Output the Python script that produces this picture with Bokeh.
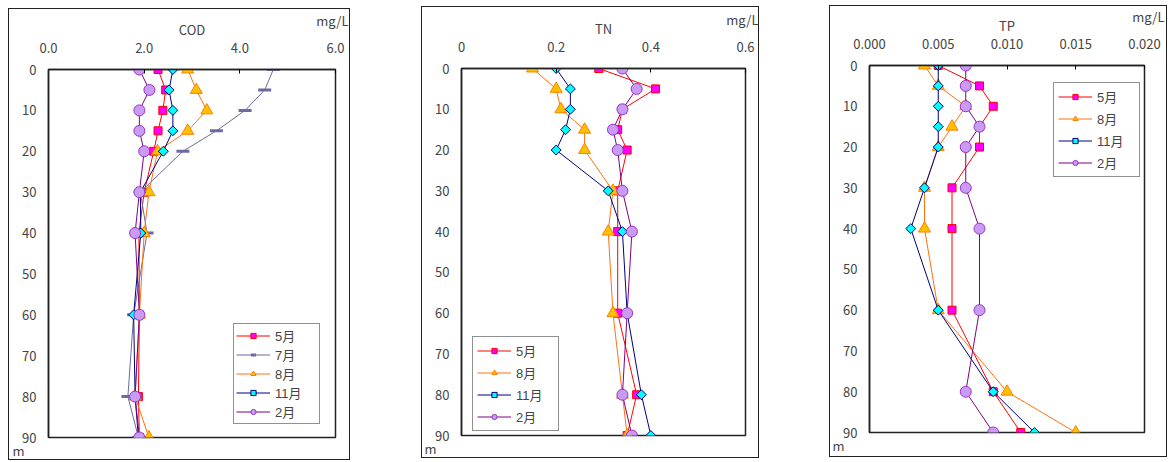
import math
from bokeh.plotting import figure
from bokeh.models import Range1d, FixedTicker, Legend, LegendItem, Title, Spacer
from bokeh.layouts import row, column
from bokeh.embed import file_html
from bokeh.resources import INLINE

depth = [0, 5, 10, 15, 20, 30, 40, 60, 80, 90]
depth_ticks = [0, 10, 20, 30, 40, 50, 60, 70, 80, 90]

months_cod = ["5月", "7月", "8月", "11月", "2月"]
months_4 = ["5月", "8月", "11月", "2月"]

cod_may = [2.29, 2.45, 2.39, 2.29, 2.20, 2.00, 1.89, 1.90, 1.88, 1.90]
cod_jul = [4.70, 4.52, 4.11, 3.51, 2.81, 1.92, 2.06, 1.78, 1.66, 1.88]
cod_aug = [2.91, 3.09, 3.31, 2.91, 2.28, 2.10, 2.00, 1.90, 1.81, 2.10]
cod_nov = [2.60, 2.52, 2.60, 2.60, 2.40, 1.92, 1.93, 1.78, 1.81, 1.88]
cod_feb = [1.90, 2.11, 1.90, 1.90, 2.00, 1.90, 1.81, 1.90, 1.81, 1.90]

tn_may = [0.29, 0.41, 0.34, 0.33, 0.35, 0.33, 0.33, 0.33, 0.37, 0.35]
tn_aug = [0.15, 0.20, 0.21, 0.26, 0.26, 0.32, 0.31, 0.32, 0.34, 0.35]
tn_nov = [0.20, 0.23, 0.23, 0.22, 0.20, 0.31, 0.34, 0.35, 0.38, 0.40]
tn_feb = [0.34, 0.37, 0.34, 0.32, 0.33, 0.34, 0.36, 0.35, 0.34, 0.36]

tp_may = [0.005, 0.008, 0.009, 0.008, 0.008, 0.006, 0.006, 0.006, 0.009, 0.011]
tp_aug = [0.004, 0.005, 0.007, 0.006, 0.005, 0.004, 0.004, 0.005, 0.010, 0.015]
tp_nov = [0.005, 0.005, 0.005, 0.005, 0.005, 0.004, 0.003, 0.005, 0.009, 0.012]
tp_feb = [0.007, 0.007, 0.007, 0.008, 0.007, 0.007, 0.008, 0.008, 0.007, 0.009]

cod_ticks = [0, 2, 4, 6]
cod_tick_labels = ["0.0", "2.0", "4.0", "6.0"]
tn_ticks = [0, 0.2, 0.4, 0.6]
tn_tick_labels = ["0", "0.2", "0.4", "0.6"]
tp_ticks = [0, 0.005, 0.010, 0.015, 0.020]
tp_tick_labels = ["0.000", "0.005", "0.010", "0.015", "0.020"]

FONT = "Noto Sans CJK JP"
LFONT = "Liberation Sans, Noto Sans CJK JP"
FS = "13px"

STYLE = {
    "5月": dict(marker="square", size=8, angle=0, line="#FF0000", fill="#FF00FF", edge="#FF0000"),
    "7月": dict(marker="dash", size=13, angle=0, line="#6B6BA0", fill="#6B6BA0", edge="#6B6BA0"),
    "8月": dict(marker="triangle", size=12, angle=0, line="#FF7010", fill="#FFC000", edge="#FF8000"),
    "11月": dict(marker="square", size=7, angle=math.pi / 4, line="#000080", fill="#00FFFF", edge="#000080"),
    "2月": dict(marker="circle", size=11, angle=0, line="#800080", fill="#C99BF2", edge="#9933CC"),
}


def make_panel(title, xmax, ticks, tick_labels, names, series, width,
               borders, leg_loc, leg_spacing, leg_pad, leg_lw, mgl_off, m_off):
    bl, br, bt, bb = borders
    p = figure(width=width, height=452, output_backend="svg", toolbar_location=None,
               x_axis_location="above", x_range=Range1d(0, xmax), y_range=Range1d(90, 0),
               min_border_left=bl, min_border_right=br, min_border_top=bt, min_border_bottom=bb,
               styles={"border": "1px solid #222"})
    p.grid.visible = False
    p.outline_line_color = "#222222"
    p.outline_line_width = 1.5
    p.background_fill_color = "white"
    p.border_fill_color = "white"

    p.title.text = "mg/L"
    p.title.align = "right"
    p.title.offset = mgl_off
    p.title.standoff = -27
    p.title.text_font = FONT
    p.title.text_font_size = FS
    p.title.text_font_style = "normal"

    p.add_layout(Title(text="m", align="left", offset=m_off, standoff=2,
                       text_font=FONT, text_font_size=FS, text_font_style="normal"), "below")

    xa = p.xaxis[0]
    xa.ticker = FixedTicker(ticks=ticks)
    xa.major_label_overrides = {t: l for t, l in zip(ticks, tick_labels)}
    xa.major_tick_in = 4
    xa.major_tick_out = 0
    xa.minor_tick_in = 0
    xa.minor_tick_out = 0
    xa.major_label_standoff = 17
    xa.axis_label = title
    xa.axis_label_standoff = 1
    xa.axis_label_text_font_style = "normal"
    xa.axis_label_text_font = FONT
    xa.axis_label_text_font_size = FS
    xa.major_label_text_font = FONT
    xa.major_label_text_font_size = FS
    xa.axis_line_color = "#222222"
    xa.axis_line_width = 1.5

    ya = p.yaxis[0]
    ya.ticker = FixedTicker(ticks=depth_ticks)
    ya.major_tick_in = 0
    ya.major_tick_out = 0
    ya.minor_tick_in = 0
    ya.minor_tick_out = 0
    ya.major_label_standoff = 12
    ya.major_label_text_font = FONT
    ya.major_label_text_font_size = FS
    ya.axis_line_color = "#222222"
    ya.axis_line_width = 1.5

    items = []
    for name, vals in zip(names, series):
        s = STYLE[name]
        r1 = p.line(vals, depth, line_color=s["line"], line_width=1)
        lw = 3 if s["marker"] == "dash" else 1
        r2 = p.scatter(vals, depth, marker=s["marker"], size=s["size"], angle=s["angle"],
                       fill_color=s["fill"], line_color=s["edge"], line_width=lw)
        items.append(LegendItem(label=name, renderers=[r1, r2]))

    leg = Legend(items=items, location=leg_loc)
    leg.label_text_font = LFONT
    leg.label_text_font_size = FS
    leg.label_text_line_height = 1.0
    leg.glyph_width = 34
    leg.glyph_height = 13
    leg.label_height = 13
    leg.label_width = leg_lw
    leg.spacing = leg_spacing
    leg.padding = leg_pad
    leg.margin = 0
    leg.label_standoff = 5
    leg.border_line_color = "#222222"
    leg.border_line_width = 1.5
    leg.background_fill_alpha = 1
    p.add_layout(leg, "center")
    return p


p1 = make_panel("COD", 6, cod_ticks, cod_tick_labels, months_cod,
                [cod_may, cod_jul, cod_aug, cod_nov, cod_feb], 342,
                (39, 16, 60, 24), (185, 13), -4, 2, 42, -13, -36)
p2 = make_panel("TN", 0.6, tn_ticks, tn_tick_labels, months_4,
                [tn_may, tn_aug, tn_nov, tn_feb], 338,
                (39, 15, 61, 24), (11, 4), 3, 4, 38, -13, -37)
p3 = make_panel("TP", 0.02, tp_ticks, tp_tick_labels, months_4,
                [tp_may, tp_aug, tp_nov, tp_feb], 338,
                (39, 24, 59, 26), (184, 255), 3, 4, 38, -20, -37)

layout = row(
    Spacer(width=8),
    column(Spacer(height=8), p1),
    Spacer(width=71),
    column(Spacer(height=6), p2),
    Spacer(width=70),
    column(Spacer(height=5), p3),
)

with open("out.html", "w") as f:
    f.write(file_html(layout, INLINE))
